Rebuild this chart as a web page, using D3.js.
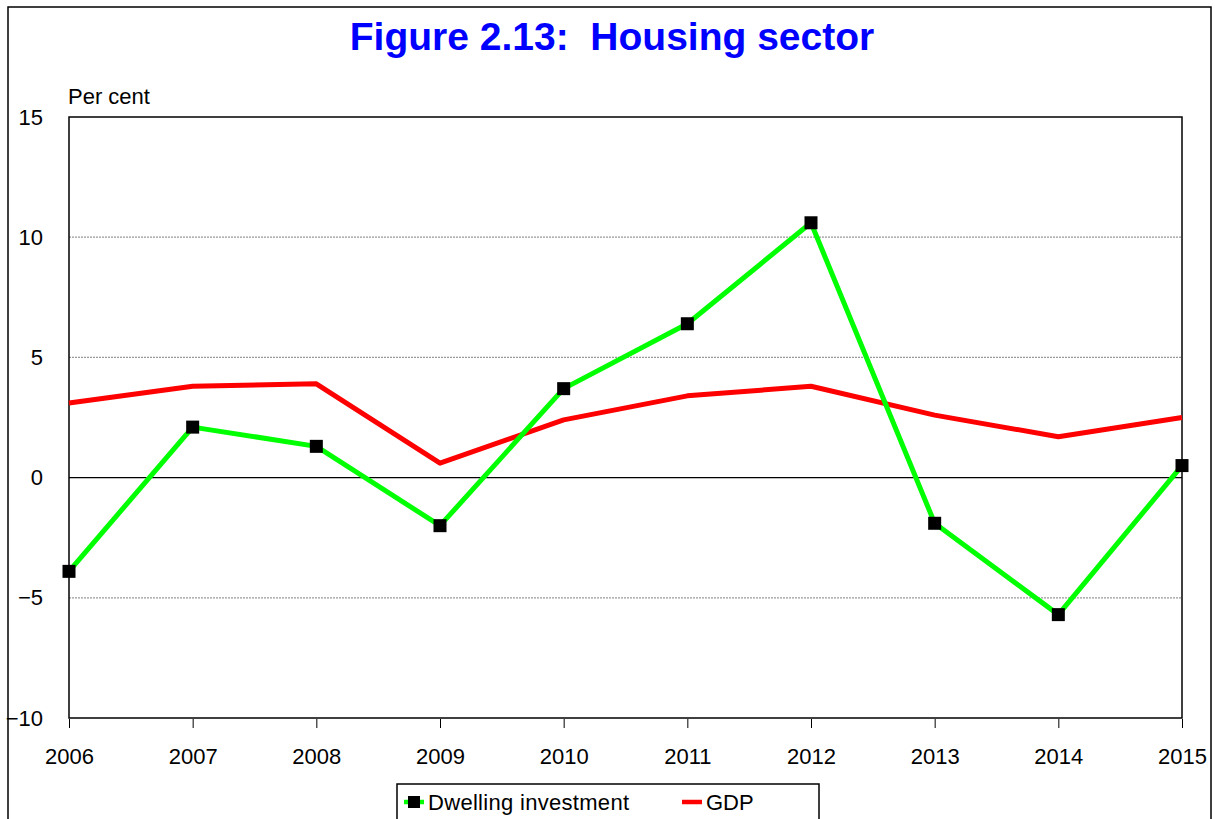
<!DOCTYPE html>
<html>
<head>
<meta charset="utf-8">
<script src="https://cdn.jsdelivr.net/npm/d3@7"></script>
<style>
  body { margin: 0; background: #fff; }
  text { font-family: Arial, "Liberation Sans", sans-serif; }
</style>
</head>
<body>
<div id="vis"></div>
<script>
// chart data
var years = [2006, 2007, 2008, 2009, 2010, 2011, 2012, 2013, 2014, 2015];
var dwelling = [-3.9, 2.1, 1.3, -2.0, 3.7, 6.4, 10.6, -1.9, -5.7, 0.5];
var gdp = [3.1, 3.8, 3.9, 0.6, 2.4, 3.4, 3.8, 2.6, 1.7, 2.5];
var yTicks = [-10, -5, 0, 5, 10, 15];

var W = 1215, H = 819;
var pLeft = 69, pRight = 1182, pTop = 117, pBottom = 718;

var svg = d3.select("#vis").append("svg")
    .attr("width", W)
    .attr("height", H);

// outer frame
svg.append("rect")
    .attr("x", 8).attr("y", 7)
    .attr("width", 1203).attr("height", 830)
    .attr("fill", "none")
    .attr("stroke", "#000")
    .attr("stroke-width", 1.5);

var x = d3.scaleLinear().domain([2006, 2015]).range([pLeft, pRight]);
var y = d3.scaleLinear().domain([-10, 15]).range([pBottom, pTop]);

// title
svg.append("text")
    .attr("x", 612).attr("y", 50)
    .attr("text-anchor", "middle")
    .style("font-size", "39px")
    .style("font-weight", "bold")
    .style("fill", "#0000ff")
    .attr("xml:space", "preserve")
    .text("Figure 2.13:  Housing sector");

svg.append("text")
    .attr("x", 68).attr("y", 104)
    .style("font-size", "22px")
    .text("Per cent");

// grid lines
svg.append("g").selectAll("line")
    .data(yTicks.filter(function(d) { return d != 0 && d != 15 && d != -10; }))
    .enter().append("line")
    .attr("x1", pLeft).attr("x2", pRight)
    .attr("y1", function(d) { return y(d); })
    .attr("y2", function(d) { return y(d); })
    .attr("stroke", "#999")
    .attr("stroke-width", 1.2)
    .attr("stroke-dasharray", "2,1");

// zero line
svg.append("line")
    .attr("x1", pLeft).attr("x2", pRight)
    .attr("y1", y(0)).attr("y2", y(0))
    .attr("stroke", "#000")
    .attr("stroke-width", 1.3);

// plot box
svg.append("rect")
    .attr("x", pLeft).attr("y", pTop)
    .attr("width", pRight - pLeft).attr("height", pBottom - pTop)
    .attr("fill", "none")
    .attr("stroke", "#000")
    .attr("stroke-width", 1.5);

// y axis labels
var yAxis = d3.axisLeft(y).tickValues(yTicks).tickSize(0).tickPadding(26);
var gy = svg.append("g")
    .attr("transform", "translate(" + pLeft + ",0)")
    .call(yAxis);
gy.select(".domain").remove();
gy.selectAll("text")
    .style("font-size", "22px")
    .style("font-family", "Arial, 'Liberation Sans', sans-serif")
    .attr("fill", "#000");

// x axis
var xAxis = d3.axisBottom(x).tickValues(years).tickFormat(d3.format("d"))
    .tickSize(9).tickPadding(20);
var gx = svg.append("g")
    .attr("transform", "translate(0," + (pBottom + 1) + ")")
    .call(xAxis);
gx.select(".domain").remove();
gx.selectAll("line").attr("stroke", "#000").attr("stroke-width", 1);
gx.selectAll("text")
    .style("font-size", "22px")
    .style("font-family", "Arial, 'Liberation Sans', sans-serif")
    .attr("fill", "#000");

var line = d3.line()
    .x(function(d, i) { return x(years[i]); })
    .y(function(d) { return y(d); });

svg.append("path")
    .datum(gdp)
    .attr("d", line)
    .attr("fill", "none")
    .attr("stroke", "#ff0000")
    .attr("stroke-width", 5)
    .attr("stroke-linejoin", "round");

svg.append("path")
    .datum(dwelling)
    .attr("d", line)
    .attr("fill", "none")
    .attr("stroke", "#00ff00")
    .attr("stroke-width", 5)
    .attr("stroke-linejoin", "round");

var ms = 13;
svg.append("g").selectAll("rect")
    .data(dwelling)
    .enter().append("rect")
    .attr("x", function(d, i) { return x(years[i]) - ms / 2; })
    .attr("y", function(d) { return y(d) - ms / 2; })
    .attr("width", ms).attr("height", ms)
    .attr("fill", "#000");

// legend
var lg = svg.append("g");
lg.append("rect")
    .attr("x", 397).attr("y", 784)
    .attr("width", 422).attr("height", 50)
    .attr("fill", "#fff")
    .attr("stroke", "#000")
    .attr("stroke-width", 1.5);
lg.append("line")
    .attr("x1", 404).attr("x2", 424)
    .attr("y1", 802).attr("y2", 802)
    .attr("stroke", "#00ff00").attr("stroke-width", 4.5);
lg.append("rect")
    .attr("x", 408).attr("y", 796)
    .attr("width", 12).attr("height", 12)
    .attr("fill", "#000");
lg.append("text")
    .attr("x", 428).attr("y", 810)
    .style("font-size", "22px")
    .style("letter-spacing", "0.3px")
    .text("Dwelling investment");
lg.append("line")
    .attr("x1", 682).attr("x2", 702)
    .attr("y1", 802).attr("y2", 802)
    .attr("stroke", "#ff0000").attr("stroke-width", 4.5);
lg.append("text")
    .attr("x", 706).attr("y", 810)
    .style("font-size", "22px")
    .text("GDP");
</script>
</body>
</html>
